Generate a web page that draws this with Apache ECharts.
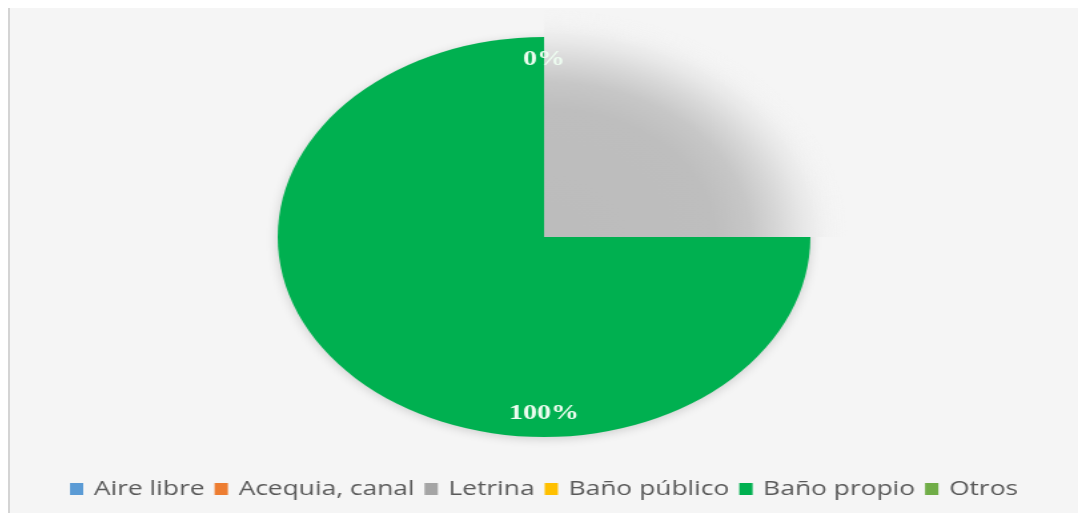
<!DOCTYPE html>
<html>
<head>
<meta charset="utf-8">
<script src="https://cdn.jsdelivr.net/npm/echarts@6/dist/echarts.min.js"></script>
<style>
  html, body { margin: 0; padding: 0; background: #ffffff; }
  body { width: 1078px; height: 513px; position: relative; overflow: hidden; }
  #frame {
    position: absolute; left: 8px; top: 8px; width: 1070px; height: 505px;
    background: #f5f5f5; border-left: 2px solid #d4d4d4; box-sizing: border-box;
    overflow: hidden;
  }
  /* the chart is drawn at its natural width and widened horizontally */
  #chart {
    position: absolute; left: 0; top: 0; width: 802px; height: 505px;
    transform: scaleX(1.3317); transform-origin: 0 0;
  }
</style>
</head>
<body>
<div id="frame"><div id="chart"></div></div>
<script>
// Tipo de servicio higiénico
const categories = ['Aire libre', 'Acequia, canal', 'Letrina', 'Baño público', 'Baño propio', 'Otros'];
const values = [0, 0, 0, 0, 100, 0];
const colors = ['#5b9bd5', '#ed7d31', '#a5a5a5', '#ffc000', '#00b050', '#70ad47'];
// which slices carry a percentage label (the zero slices all sit at the same angle)
const showLabel = [false, false, true, false, true, false];
// quarter of the disc covered by the grey shading, and the rest left clear
const shadeShare = [25, 75];

const chart = echarts.init(document.getElementById('chart'));

const center = ['50%', 229];
const R = 200;

const pieData = categories.map((name, i) => ({
  name, value: values[i], itemStyle: { color: colors[i] }
}));

const labelData = categories.map((name, i) => ({
  name, value: values[i],
  itemStyle: { color: 'transparent' },
  label: { show: showLabel[i] }
}));

// soft grey quarter: opaque inside the disc, fading out past its rim
const shadeR = R * 1.14;
const rim = R / shadeR;
const shadeGradient = {
  type: 'radial', x: 0, y: 1, r: 1, global: false,
  colorStops: [
    { offset: 0, color: '#bcbcbc' },
    { offset: 0.56, color: '#bebebe' },
    { offset: 0.68, color: '#c7c7c7' },
    { offset: 0.77, color: '#d7d7d7' },
    { offset: rim - 0.02, color: '#e8e8e8' },
    { offset: rim + 0.015, color: '#ededed' },
    { offset: 0.94, color: 'rgba(241,241,241,0.6)' },
    { offset: 1, color: 'rgba(245,245,245,0)' }
  ]
};

chart.setOption({
  backgroundColor: 'transparent',
  animation: false,
  legend: {
    left: 'center',
    top: 466,
    padding: [5, 5, 5, 17],
    itemWidth: 10,
    itemHeight: 12,
    itemGap: 7.5,
    icon: 'rect',
    textStyle: { fontFamily: 'Open Sans', fontSize: 19.8, color: '#595959', padding: [0, 0, 0, 3] },
    data: categories.map((name, i) => ({ name, itemStyle: { color: colors[i] } }))
  },
  series: [
    {
      type: 'pie',
      name: 'Servicio higiénico',
      center, radius: [0, R],
      startAngle: 90, clockwise: true,
      silent: true,
      label: { show: false }, labelLine: { show: false },
      itemStyle: { shadowBlur: 10, shadowColor: 'rgba(0,0,0,0.16)', shadowOffsetY: 2 },
      data: pieData,
      z: 1
    },
    {
      type: 'pie',
      name: 'Sombreado',
      center, radius: [0, shadeR],
      startAngle: 90, clockwise: true,
      silent: true, legendHoverLink: false,
      label: { show: false }, labelLine: { show: false },
      data: [
        { name: '', value: shadeShare[0], itemStyle: { color: shadeGradient } },
        { name: ' ', value: shadeShare[1], itemStyle: { color: 'transparent' } }
      ],
      z: 2
    },
    {
      type: 'pie',
      name: 'Etiquetas',
      center, radius: [R * 0.74, R],
      startAngle: 90, clockwise: true,
      silent: true,
      labelLine: { show: false },
      label: {
        position: 'inside',
        formatter: '{d}%',
        fontFamily: 'Liberation Serif',
        fontWeight: 'bold',
        fontSize: 21,
        color: '#eefdf1'
      },
      data: labelData,
      z: 3
    }
  ]
});
</script>
</body>
</html>
